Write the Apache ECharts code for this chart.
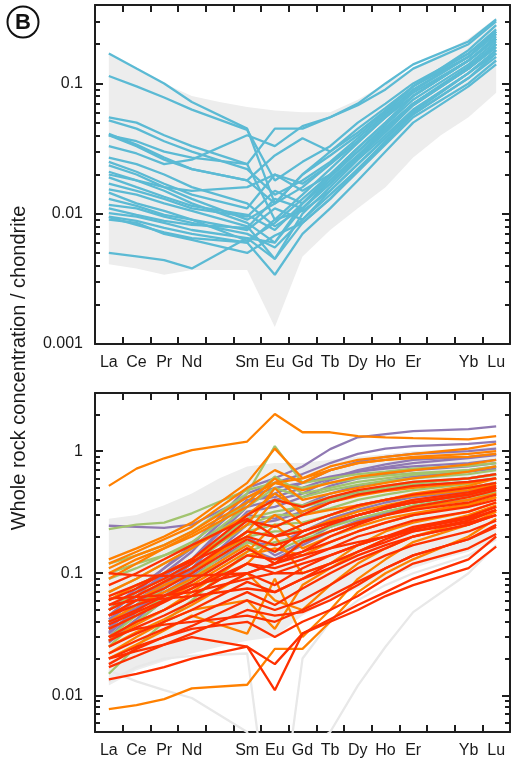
<!DOCTYPE html>
<html>
<head>
<meta charset="utf-8">
<script src="https://cdn.jsdelivr.net/npm/echarts@6/dist/echarts.min.js"></script>
<style>
html,body{margin:0;padding:0;background:#fff;}
#chart{width:515px;height:768px;}
</style>
</head>
<body>
<div id="chart"></div>
<script>
// ---------- DATA ----------
const elements = ['La','Ce','Pr','Nd','Pm','Sm','Eu','Gd','Tb','Dy','Ho','Er','Tm','Yb','Lu'];
const xLabels  = ['La','Ce','Pr','Nd','','Sm','Eu','Gd','Tb','Dy','Ho','Er','','Yb','Lu'];
const yTicksTop = [0.001, 0.01, 0.1];
const yTicksBottom = [0.01, 0.1, 1];
const yRangeTop = [0.001, 0.4];
const yRangeBottom = [0.005, 3];

// Panel B top: grey field
const fieldTopLower = [0.0041,0.0038,0.0034,0.0037,0.0037,0.0037,0.00135,0.0047,0.0075,0.011,0.016,0.027,0.04,0.055,0.085];
const fieldTopUpper = [0.17,0.13,0.10,0.08,0.072,0.066,0.062,0.06,0.06,0.075,0.1,0.13,0.17,0.22,0.32];

// Panel B top: cyan lines
const cyanLines = [
 [0.17,0.13,0.10,0.072,null,0.045,0.012,0.02,0.03,0.045,0.065,0.095,null,0.16,0.25],
 [0.114,0.095,0.078,0.063,null,0.044,0.018,0.025,0.033,0.05,0.07,0.1,null,0.17,0.26],
 [0.055,0.05,0.04,0.033,null,0.024,0.009,0.014,0.022,0.035,0.055,0.08,null,0.15,0.22],
 [0.052,0.045,0.036,0.03,null,0.022,0.014,0.018,0.025,0.038,0.058,0.09,null,0.16,0.24],
 [0.041,0.034,0.027,0.022,null,0.018,0.012,0.02,0.028,0.04,0.06,0.095,null,0.17,0.25],
 [0.033,0.029,0.024,0.026,null,0.04,0.033,0.047,0.055,0.07,0.1,0.14,null,0.21,0.31],
 [0.040,0.033,0.026,0.022,null,0.018,0.028,0.038,0.03,0.042,0.062,0.095,null,0.18,0.28],
 [0.027,0.024,0.02,0.016,null,0.012,0.008,0.011,0.018,0.028,0.045,0.07,null,0.13,0.2],
 [0.025,0.021,0.017,0.014,null,0.011,0.02,0.015,0.02,0.03,0.048,0.075,null,0.14,0.21],
 [0.0235,0.02,0.016,0.013,null,0.009,0.012,0.016,0.024,0.036,0.055,0.085,null,0.15,0.23],
 [0.021,0.018,0.015,0.012,null,0.0085,0.006,0.011,0.017,0.027,0.042,0.068,null,0.13,0.19],
 [0.017,0.015,0.013,0.011,null,0.0095,0.015,0.012,0.019,0.03,0.046,0.07,null,0.13,0.2],
 [0.0154,0.014,0.012,0.0105,null,0.008,0.0045,0.01,0.016,0.026,0.04,0.063,null,0.12,0.18],
 [0.0145,0.012,0.0105,0.009,null,0.0075,0.011,0.009,0.015,0.024,0.038,0.06,null,0.12,0.17],
 [0.0117,0.011,0.0095,0.0085,null,0.007,0.0055,0.009,0.014,0.022,0.035,0.058,null,0.11,0.16],
 [0.0101,0.0095,0.0085,0.0075,null,0.0065,0.0045,0.0085,0.013,0.021,0.034,0.055,null,0.1,0.15],
 [0.0095,0.0088,0.0078,0.007,null,0.006,0.0034,0.007,0.011,0.018,0.03,0.05,null,0.095,0.14],
 [0.0094,0.0082,0.0072,0.0065,null,0.006,0.009,0.0105,0.015,0.024,0.038,0.062,null,0.12,0.18],
 [0.005,0.0047,0.0044,0.0038,null,0.0065,0.006,0.012,0.018,0.028,0.045,0.07,null,0.135,0.2],
 [0.013,0.0115,0.0098,0.009,null,0.0062,0.0085,0.013,0.02,0.032,0.05,0.08,null,0.15,0.22],
 [0.011,0.0098,0.0088,0.0082,null,0.0078,0.013,0.011,0.017,0.027,0.043,0.068,null,0.13,0.19],
 [0.019,0.016,0.0135,0.0115,null,0.0098,0.0075,0.012,0.02,0.032,0.05,0.08,null,0.15,0.22],
 [0.009,0.0085,0.007,0.0063,null,0.005,0.0068,0.0085,0.013,0.022,0.036,0.058,null,0.11,0.17],
 [0.02,0.018,0.016,0.015,null,0.016,0.02,0.017,0.024,0.036,0.056,0.088,null,0.16,0.24],
 [0.04,0.036,0.03,0.027,null,0.024,0.045,0.045,0.055,0.068,0.09,0.13,null,0.2,0.3]
];

// Panel B bottom: grey field and light grey lines
const fieldBotLower = [0.012,0.016,0.019,0.022,0.025,0.028,0.03,0.045,0.06,0.075,0.09,0.11,0.13,0.15,0.19];
const fieldBotUpper = [0.28,0.3,0.36,0.45,0.6,0.75,0.8,0.8,0.85,0.9,0.95,1.0,1.03,1.05,1.1];
const greyLines = [
 [0.016,0.013,0.011,0.0095,null,0.005,0.0004,0.0035,0.005,0.012,0.025,0.048,null,0.1,0.17],
 [0.013,0.017,0.02,0.021,null,0.022,0.0004,0.02,0.04,0.06,0.08,0.1,null,0.14,0.19]
];

const purpleLines = [
 [0.245,0.24,0.235,0.25,null,0.42,0.5,0.55,0.62,0.68,0.72,0.75,null,0.8,0.85],
 [0.045,0.07,0.11,0.17,null,0.5,0.6,0.75,1.04,1.3,1.38,1.46,null,1.52,1.6],
 [0.04,0.065,0.1,0.15,null,0.45,0.55,0.65,0.8,0.95,1.05,1.1,null,1.15,1.2],
 [0.035,0.055,0.085,0.13,null,0.38,0.45,0.55,0.7,0.82,0.9,0.95,null,1.0,1.05],
 [0.05,0.075,0.11,0.16,null,0.4,0.42,0.5,0.6,0.7,0.78,0.85,null,0.9,0.95],
 [0.03,0.048,0.075,0.11,null,0.32,0.35,0.42,0.52,0.6,0.65,0.7,null,0.75,0.8],
 [0.032,0.05,0.08,0.12,null,0.3,0.28,0.36,0.45,0.52,0.57,0.62,null,0.68,0.72],
 [0.028,0.042,0.065,0.1,null,0.25,0.27,0.32,0.4,0.46,0.5,0.55,null,0.6,0.65],
 [0.038,0.055,0.08,0.11,null,0.22,0.2,0.25,0.3,0.36,0.4,0.44,null,0.5,0.55],
 [0.033,0.05,0.07,0.095,null,0.18,0.17,0.22,0.28,0.33,0.38,0.42,null,0.47,0.5],
 [0.042,0.06,0.085,0.12,null,0.27,0.24,0.3,0.38,0.44,0.48,0.52,null,0.56,0.6],
 [0.036,0.052,0.075,0.105,null,0.2,0.14,0.18,0.24,0.3,0.34,0.38,null,0.43,0.46],
 [0.05,0.07,0.095,0.13,null,0.35,0.4,0.45,0.58,0.68,0.74,0.8,null,0.88,0.93],
 [0.027,0.04,0.06,0.085,null,0.16,0.13,0.17,0.22,0.27,0.31,0.35,null,0.4,0.44]
];
const greenLines = [
 [0.23,0.25,0.26,0.31,null,0.48,0.55,0.5,0.55,0.6,0.63,0.66,null,0.7,0.75],
 [0.12,0.14,0.17,0.22,null,0.45,1.1,0.55,0.6,0.65,0.68,0.72,null,0.76,0.8],
 [0.07,0.09,0.12,0.16,null,0.35,0.5,0.42,0.48,0.53,0.57,0.6,null,0.65,0.7],
 [0.06,0.08,0.1,0.13,null,0.28,0.32,0.35,0.4,0.45,0.5,0.54,null,0.6,0.65],
 [0.05,0.07,0.09,0.12,null,0.25,0.3,0.3,0.34,0.4,0.44,0.48,null,0.54,0.6],
 [0.04,0.055,0.075,0.1,null,0.22,0.25,0.26,0.3,0.35,0.4,0.44,null,0.5,0.55],
 [0.03,0.045,0.065,0.09,null,0.2,0.22,0.22,0.26,0.3,0.34,0.38,null,0.44,0.5],
 [0.015,0.025,0.04,0.06,null,0.15,0.18,0.2,0.24,0.28,0.32,0.36,null,0.42,0.48],
 [0.09,0.11,0.14,0.18,null,0.38,0.62,0.45,0.5,0.56,0.6,0.64,null,0.7,0.75],
 [0.025,0.04,0.06,0.085,null,0.18,0.15,0.19,0.22,0.26,0.3,0.34,null,0.4,0.46],
 [0.1,0.12,0.14,0.17,null,0.3,0.4,0.36,0.42,0.47,0.52,0.56,null,0.6,0.64]
];
const orangeLines = [
 [0.52,0.72,0.875,1.02,null,1.2,2.02,1.43,1.43,1.33,1.3,1.28,null,1.25,1.33],
 [0.0077,0.0083,0.0093,0.0114,null,0.0122,0.024,0.024,0.04,0.07,0.1,0.13,null,0.2,0.28],
 [0.13,0.16,0.2,0.26,null,0.55,1.05,0.6,0.75,0.85,0.9,0.95,null,1.05,1.15],
 [0.12,0.15,0.19,0.24,null,0.5,0.7,0.55,0.7,0.8,0.85,0.9,null,0.95,1.0],
 [0.11,0.14,0.17,0.22,null,0.42,0.55,0.48,0.55,0.62,0.66,0.7,null,0.78,0.85],
 [0.09,0.12,0.16,0.21,null,0.38,0.6,0.4,0.45,0.5,0.55,0.6,null,0.68,0.75],
 [0.07,0.09,0.12,0.16,null,0.3,0.45,0.32,0.38,0.43,0.47,0.5,null,0.55,0.6],
 [0.06,0.08,0.1,0.13,null,0.25,0.5,0.3,0.33,0.36,0.4,0.43,null,0.48,0.53],
 [0.05,0.065,0.085,0.11,null,0.2,0.3,0.22,0.27,0.32,0.36,0.4,null,0.45,0.5],
 [0.04,0.055,0.07,0.09,null,0.17,0.12,0.18,0.22,0.26,0.3,0.34,null,0.4,0.45],
 [0.035,0.045,0.06,0.08,null,0.15,0.25,0.16,0.2,0.24,0.28,0.31,null,0.37,0.42],
 [0.03,0.04,0.05,0.065,null,0.12,0.2,0.1,0.12,0.17,0.22,0.26,null,0.32,0.38],
 [0.025,0.033,0.042,0.055,null,0.1,0.06,0.05,0.08,0.12,0.16,0.2,null,0.27,0.33],
 [0.022,0.03,0.04,0.05,null,0.06,0.035,0.08,0.11,0.15,0.19,0.23,null,0.3,0.36],
 [0.02,0.026,0.034,0.045,null,0.032,0.09,0.03,0.05,0.09,0.13,0.18,null,0.25,0.32],
 [0.028,0.038,0.05,0.07,null,0.14,0.16,0.14,0.18,0.22,0.26,0.3,null,0.36,0.42],
 [0.045,0.06,0.08,0.1,null,0.22,0.4,0.25,0.3,0.35,0.4,0.45,null,0.52,0.6],
 [0.1,0.13,0.16,0.2,null,0.35,0.55,0.6,0.7,0.8,0.85,0.88,null,0.9,0.95]
];
const redLines = [
 [0.1,0.096,0.095,0.095,null,0.1,0.12,0.14,0.16,0.18,0.2,0.22,null,0.26,0.3],
 [0.0135,0.015,0.017,0.02,null,0.025,0.018,0.032,0.04,0.05,0.065,0.08,null,0.11,0.165],
 [0.02,0.023,0.026,0.03,null,0.025,0.011,0.032,0.042,0.055,0.07,0.09,null,0.13,0.2],
 [0.06,0.075,0.1,0.13,null,0.3,0.4,0.35,0.42,0.48,0.52,0.56,null,0.6,0.65],
 [0.055,0.07,0.09,0.12,null,0.27,0.24,0.3,0.38,0.44,0.48,0.52,null,0.56,0.6],
 [0.05,0.065,0.085,0.11,null,0.22,0.2,0.25,0.3,0.36,0.4,0.44,null,0.5,0.55],
 [0.045,0.06,0.075,0.1,null,0.19,0.15,0.22,0.26,0.3,0.34,0.38,null,0.44,0.5],
 [0.04,0.05,0.065,0.085,null,0.16,0.12,0.18,0.22,0.26,0.3,0.33,null,0.38,0.44],
 [0.035,0.045,0.058,0.075,null,0.14,0.13,0.15,0.18,0.22,0.26,0.3,null,0.35,0.4],
 [0.03,0.04,0.05,0.065,null,0.12,0.11,0.13,0.16,0.2,0.23,0.27,null,0.32,0.38],
 [0.028,0.036,0.045,0.058,null,0.1,0.08,0.11,0.14,0.17,0.2,0.24,null,0.29,0.35],
 [0.025,0.032,0.04,0.05,null,0.085,0.07,0.09,0.12,0.15,0.18,0.22,null,0.27,0.33],
 [0.022,0.028,0.035,0.044,null,0.07,0.055,0.075,0.1,0.13,0.16,0.2,null,0.25,0.3],
 [0.018,0.024,0.03,0.037,null,0.06,0.05,0.06,0.08,0.11,0.14,0.17,null,0.22,0.27],
 [0.017,0.021,0.026,0.032,null,0.05,0.045,0.048,0.06,0.08,0.11,0.14,null,0.19,0.24],
 [0.062,0.064,0.066,0.07,null,0.09,0.1,0.12,0.14,0.17,0.2,0.23,null,0.28,0.33],
 [0.055,0.06,0.062,0.065,null,0.075,0.07,0.09,0.11,0.14,0.17,0.2,null,0.25,0.3],
 [0.08,0.1,0.13,0.17,null,0.28,0.2,0.22,0.26,0.3,0.34,0.38,null,0.44,0.5],
 [0.03,0.035,0.038,0.04,null,0.045,0.04,0.05,0.065,0.085,0.11,0.14,null,0.19,0.25],
 [0.02,0.025,0.03,0.035,null,0.04,0.03,0.04,0.05,0.065,0.09,0.12,null,0.16,0.21],
 [0.065,0.08,0.1,0.125,null,0.2,0.17,0.2,0.25,0.3,0.35,0.4,null,0.46,0.52],
 [0.045,0.055,0.065,0.08,null,0.1,0.12,0.15,0.2,0.25,0.3,0.35,null,0.42,0.48],
 [0.038,0.048,0.06,0.075,null,0.12,0.1,0.1,0.12,0.15,0.19,0.23,null,0.29,0.35]
];

// ---------- STYLE ----------
const C = {
  cyan:'#5bbad4', purple:'#9079b3', green:'#a2c46f', orange:'#ff8000', red:'#ff3000',
  field:'#ededed', grey:'#e8e8e8', axis:'#1e1e1e', text:'#1a1a1a'
};
const FONT = 'Liberation Sans, Arial, sans-serif';
const LW = 2.3;
const lg = v => (v == null ? null : Math.log10(v));

function minorTicks(range){
  const out = [];
  const lo = Math.floor(Math.log10(range[0])), hi = Math.ceil(Math.log10(range[1]));
  for (let p = lo; p <= hi; p++) {
    for (let k = 2; k <= 9; k++) {
      const v = k * Math.pow(10, p);
      if (v > range[0] && v < range[1]) out.push(lg(v));
    }
  }
  return out;
}
const fmt = v => { const p = Math.round(v); return p >= 0 ? String(Math.pow(10,p)) : Math.pow(10,p).toFixed(-p); };

const axisLineStyle = { color: C.axis, width: 2 };
function xAxes(g){
  const base = {
    gridIndex: g, type: 'category', data: xLabels, boundaryGap: true,
    axisLine: { show: true, onZero: false, lineStyle: axisLineStyle },
    axisTick: { show: true, inside: true, length: 7, interval: 0, lineStyle: { color: C.axis, width: 2 } },
    splitLine: { show: false }
  };
  return [
    Object.assign({}, base, { position: 'bottom',
      axisLabel: { show: true, interval: 0, margin: 11, fontSize: 16, color: C.text, fontFamily: FONT } }),
    Object.assign({}, base, { position: 'top', axisLabel: { show: false } })
  ];
}
function yAxes(g, range, majors){
  const mn = lg(range[0]), mx = lg(range[1]);
  const maj = majors.map(lg), mnr = minorTicks(range);
  const mk = (pos, major, label) => ({
    gridIndex: g, type: 'value', min: mn, max: mx, position: pos,
    axisLine: { show: major, onZero: false, lineStyle: axisLineStyle },
    axisTick: { show: true, inside: true, length: major ? 8 : 5, customValues: major ? maj : mnr,
                lineStyle: { color: C.axis, width: 2 } },
    axisLabel: label ? { show: true, customValues: maj, formatter: fmt, margin: 12, fontSize: 16,
                         color: C.text, fontFamily: FONT } : { show: false },
    splitLine: { show: false }
  });
  return [mk('left', true, true), mk('left', false, false), mk('right', true, false), mk('right', false, false)];
}

const series = [];
function addField(lower, upper, xi, yi, id){
  series.push({ type:'line', xAxisIndex: xi, yAxisIndex: yi, stack: id, stackStrategy:'all',
    data: lower.map(lg), symbol:'none', lineStyle:{ width:0, opacity:0 }, silent:true });
  series.push({ type:'line', xAxisIndex: xi, yAxisIndex: yi, stack: id, stackStrategy:'all',
    data: upper.map((u,i) => lg(u) - lg(lower[i])), symbol:'none',
    lineStyle:{ width:0, opacity:0 }, areaStyle:{ color: C.field, opacity: 1 }, silent:true });
}
function addLines(lines, color, xi, yi, w){
  lines.forEach(arr => series.push({
    type:'line', xAxisIndex: xi, yAxisIndex: yi, data: arr.map(lg), connectNulls: true,
    symbol:'none', lineStyle:{ color: color, width: w || LW }, silent: true, clip: true
  }));
}

// top panel: x 0, y 0
addField(fieldTopLower, fieldTopUpper, 0, 0, 'ftop');
addLines(cyanLines, C.cyan, 0, 0, LW);
// bottom panel: x 2, y 4
addField(fieldBotLower, fieldBotUpper, 2, 4, 'fbot');
addLines(greyLines, C.grey, 2, 4, LW);
addLines(purpleLines, C.purple, 2, 4, LW);
addLines(greenLines, C.green, 2, 4, LW);
addLines(orangeLines, C.orange, 2, 4, LW);
addLines(redLines, C.red, 2, 4, LW);

const chart = echarts.init(document.getElementById('chart'), null, { renderer: 'canvas' });
chart.setOption({
  animation: false,
  backgroundColor: '#fff',
  grid: [
    { left: 95, right: 5, top: 5, height: 339 },
    { left: 95, right: 5, top: 393, height: 339 }
  ],
  xAxis: xAxes(0).concat(xAxes(1)),
  yAxis: yAxes(0, yRangeTop, yTicksTop).concat(yAxes(1, yRangeBottom, yTicksBottom)),
  series: series,
  graphic: [
    { type:'circle', shape:{ cx: 23, cy: 22, r: 15.5 }, style:{ fill: null, stroke: '#111', lineWidth: 2 } },
    { type:'text', x: 23, y: 23, style:{ text:'B', font:'bold 22px ' + FONT, fill:'#111', align:'center', verticalAlign:'middle' } },
    { type:'text', x: 19, y: 368, rotation: Math.PI/2,
      style:{ text:'Whole rock concentration / chondrite', font:'20px ' + FONT, fill: C.text, align:'center', verticalAlign:'middle' } }
  ]
});
</script>
</body>
</html>
